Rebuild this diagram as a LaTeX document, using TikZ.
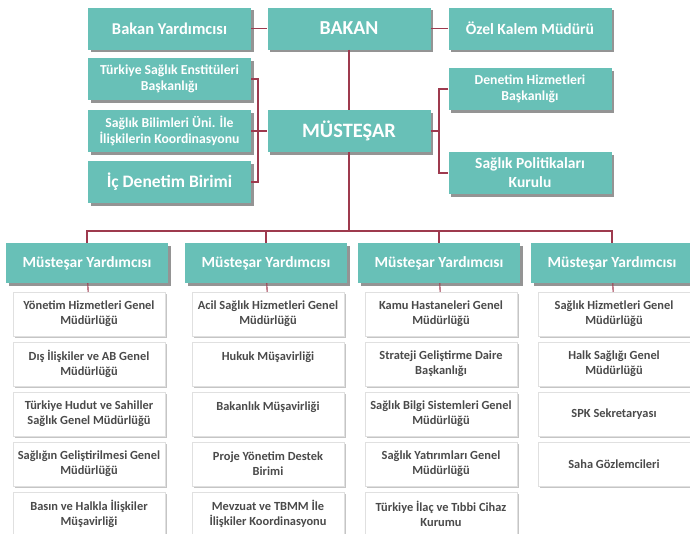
\documentclass[tikz,border=0pt]{standalone}
\usepackage{fontspec}
\setmainfont{Carlito}
\usepackage{tikz}
\usetikzlibrary{calc}
\usetikzlibrary{positioning}
\usetikzlibrary{shadows}

\definecolor{tealbox}{HTML}{68C0B7}
\definecolor{linkred}{HTML}{9E3A4E}
\definecolor{unittext}{HTML}{4A4A4A}

\begin{document}
\begin{tikzpicture}[x=1pt,y=-1pt,
    link/.style={draw=linkred,line width=1.1pt},
    office/.style={fill=tealbox,text=white,align=center,inner sep=1pt,
      minimum width=163pt,minimum height=42pt,
      font=\bfseries\fontsize{13.7}{16}\selectfont,
      drop shadow={shadow xshift=2.5pt,shadow yshift=-2.5pt,fill=black!70,opacity=.6}},
    header/.style={office,minimum width=162pt,minimum height=40pt,
      font=\bfseries\fontsize{15.5}{18}\selectfont},
    unit/.style={fill=white,draw=black!12,text=unittext,align=center,inner sep=1pt,
      minimum width=152pt,minimum height=44pt,
      font=\bfseries\fontsize{12.4}{15}\selectfont,
      drop shadow={shadow xshift=2pt,shadow yshift=-2pt,fill=black!45,opacity=.5}}]
    \useasboundingbox (0,0) rectangle (690,533);
    \clip (0,0) rectangle (690,533);

    % top levels
    \node[office,font=\bfseries\fontsize{16.5}{20}\selectfont] (byard) at (169.5,28.5) {Bakan Yardımcısı};
    \node[office,font=\bfseries\fontsize{19.8}{22}\selectfont] (bakan) at (349,28.5) {BAKAN};
    \node[office,font=\bfseries\fontsize{15.6}{18}\selectfont] (ozel) at (530,28.5) {Özel Kalem Müdürü};
    \node[office] (tse) at (169.5,79) {Türkiye Sağlık Enstitüleri\\Başkanlığı};
    \node[office] (sbu) at (169.5,131) {Sağlık Bilimleri Üni. İle\\İlişkilerin Koordinasyonu};
    \node[office,font=\bfseries\fontsize{17.5}{20}\selectfont] (icd) at (169.5,182) {İç Denetim Birimi};
    \node[office,font=\bfseries\fontsize{20.4}{22}\selectfont] (mus) at (349,131) {MÜSTEŞAR};
    \node[office] (dhb) at (530,89) {Denetim Hizmetleri\\Başkanlığı};
    \node[office,font=\bfseries\fontsize{15.5}{19}\selectfont] (spk) at (530,173) {Sağlık Politikaları\\Kurulu};

    \coordinate (lb) at (258,0);
    \coordinate (rb) at (439,0);
    \coordinate (bar) at (0,231);
    \draw[link] (byard) -- (bakan);
    \draw[link] (bakan) -- (ozel);
    \draw[link] (bakan) -- (mus);
    \draw[link] (tse.east) -- (tse.east -| lb) -- (icd.east -| lb) -- (icd.east);
    \draw[link] (sbu) -- (mus);
    \draw[link] (dhb.west) -- (dhb.west -| rb) -- (spk.west -| rb) -- (spk.west);
    \draw[link] (mus) -- (mus -| rb);

    % undersecretary deputies
    \foreach \i/\cx in {1/87,2/266,3/439,4/612}
      \node[header] (h\i) at (\cx,263) {Müsteşar Yardımcısı};
    \draw[link] (mus) -- (mus |- bar);
    \draw[link] (h1) -- (h1 |- bar) -- (h4 |- bar) -- (h4);
    \draw[link] (h2) -- (h2 |- bar);
    \draw[link] (h3) -- (h3 |- bar);

    \foreach \i/\units in {
      1/{{Yönetim Hizmetleri Genel\\Müdürlüğü},{Dış İlişkiler ve AB Genel\\Müdürlüğü},
         {Türkiye Hudut ve Sahiller\\Sağlık Genel Müdürlüğü},{Sağlığın Geliştirilmesi Genel\\Müdürlüğü},
         {Basın ve Halkla İlişkiler\\Müşavirliği}},
      2/{{Acil Sağlık Hizmetleri Genel\\Müdürlüğü},{Hukuk Müşavirliği\\\mbox{}},{Bakanlık Müşavirliği\\\mbox{}},
         {Proje Yönetim Destek\\Birimi},{Mevzuat ve TBMM İle\\İlişkiler Koordinasyonu}},
      3/{{Kamu Hastaneleri Genel\\Müdürlüğü},{Strateji Geliştirme Daire\\Başkanlığı},
         {Sağlık Bilgi Sistemleri Genel\\Müdürlüğü},{Sağlık Yatırımları Genel\\Müdürlüğü},
         {Türkiye İlaç ve Tıbbi Cihaz\\Kurumu}},
      4/{{Sağlık Hizmetleri Genel\\Müdürlüğü},{Halk Sağlığı Genel\\Müdürlüğü},
         {SPK Sekretaryası},{Saha Gözlemcileri}}}{
      \foreach \t [count=\j] in \units
        \node[unit] (w\i-\j) at ($(h\i)+(2,1+50*\j)$) {\t};
      \draw[link] (h\i) -- (w\i-1);
    }
    % short ticks between units
    \foreach \i/\n in {1/5,2/5,3/5,4/4}
      \foreach \j [evaluate=\j as \k using int(\j+1)] in {1,...,4}
        \ifnum\k>\n\else\draw[link] (w\i-\j) -- (w\i-\k);\fi;
  \end{tikzpicture}
\end{document}
